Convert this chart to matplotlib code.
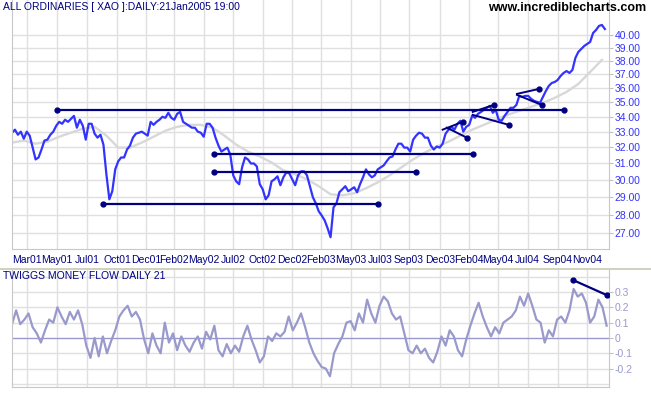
import numpy as np
import matplotlib.pyplot as plt
from matplotlib.ticker import FixedLocator, NullLocator

# All Ordinaries daily close, read every 5 trading days (Feb 2001 - Jan 2005)
price = [32.95, 33.15, 32.82, 33.02, 32.56, 33.02, 32.76, 31.99, 31.25, 31.37,
         31.87, 32.44, 32.50, 32.82, 33.02, 33.41, 33.67, 33.54, 33.81, 33.67,
         33.87, 34.07, 33.28, 33.81, 33.41, 32.50, 33.54, 33.54, 32.89, 32.63,
         32.82, 32.18, 30.34, 28.87, 29.34, 30.64, 31.13, 31.37, 31.37, 31.87,
         32.12, 32.63, 32.89, 32.95, 33.02, 32.89, 32.76, 33.67, 33.47, 33.67,
         33.81, 34.01, 33.94, 34.28, 33.94, 33.81, 34.21, 34.34, 33.67, 33.54,
         33.41, 33.28, 33.28, 33.02, 32.95, 32.69, 33.54, 33.54, 33.28, 32.63,
         32.12, 31.74, 31.87, 31.99, 31.56, 30.28, 29.92, 29.75, 30.76, 31.37,
         31.25, 31.00, 31.00, 30.82, 29.75, 29.45, 28.87, 29.10, 29.92, 30.04,
         30.22, 29.69, 30.16, 30.46, 30.40, 30.04, 29.69, 30.28, 30.52, 30.52,
         30.28, 29.63, 28.99, 28.64, 28.19, 27.96, 27.69, 27.26, 26.78, 28.41,
         28.64, 29.28, 29.45, 29.63, 29.34, 29.45, 29.57, 29.28, 29.75, 30.16,
         30.64, 30.34, 30.16, 30.28, 30.64, 30.76, 30.88, 31.13, 31.37, 31.43,
         31.87, 32.24, 32.24, 31.99, 31.99, 31.74, 32.50, 32.76, 32.95, 32.89,
         32.63, 32.63, 32.12, 31.87, 32.06, 31.99, 32.24, 32.89, 33.15, 33.34,
         33.15, 33.54, 33.74, 33.02, 33.34, 33.47, 34.07, 33.94, 34.21, 34.34,
         34.48, 34.62, 34.76, 34.28, 34.48, 33.81, 33.74, 34.07, 34.34, 34.62,
         34.62, 34.82, 35.45, 35.38, 35.45, 35.45, 35.24, 35.10, 35.03, 34.96,
         35.38, 35.80, 36.16, 36.37, 36.44, 36.59, 36.88, 37.10, 37.24, 37.10,
         37.32, 38.22, 38.68, 38.91, 39.14, 39.30, 39.45, 40.16, 40.40, 40.73,
         40.81, 40.48]

# moving average, read every 20 trading days
ma = [32.31, 32.44, 32.24, 32.37, 32.69, 32.95, 33.21, 33.34, 32.76, 31.99,
      31.99, 32.31, 32.69, 33.08, 33.34, 33.47, 33.47, 33.28, 32.76, 32.18,
      31.74, 31.43, 31.06, 30.58, 30.34, 30.04, 29.63, 29.16, 29.10, 29.22,
      29.51, 29.86, 30.28, 30.76, 31.25, 31.68, 32.06, 32.37, 32.76, 33.15,
      33.47, 33.81, 34.14, 34.41, 34.69, 34.96, 35.31, 35.73, 36.30, 37.17,
      38.07]

# Twiggs money flow (21), read every 7 trading days
mf = [0.09, 0.18, 0.09, 0.12, 0.16, 0.07, 0.03, -0.03, 0.05, 0.12,
      0.10, 0.20, 0.14, 0.09, 0.17, 0.12, 0.18, 0.09, -0.05, -0.13,
      0.00, -0.12, 0.01, -0.10, -0.02, 0.05, 0.14, 0.18, 0.21, 0.14,
      0.17, 0.12, -0.01, -0.10, 0.03, -0.05, -0.10, 0.10, -0.03, 0.03,
      -0.08, 0.01, -0.05, -0.09, -0.03, 0.01, -0.07, 0.04, -0.01, 0.08,
      -0.08, -0.12, -0.04, -0.10, -0.05, -0.09, 0.01, 0.08, -0.01, -0.08,
      -0.16, -0.12, 0.01, -0.02, 0.03, 0.01, 0.04, 0.14, 0.05, 0.10,
      0.16, 0.07, -0.03, -0.10, -0.15, -0.19, -0.20, -0.25, -0.10, -0.04,
      0.01, 0.10, 0.11, 0.05, 0.16, 0.10, 0.25, 0.16, 0.10, 0.21,
      0.27, 0.24, 0.16, 0.12, 0.14, 0.03, -0.08, -0.10, -0.05, -0.10,
      -0.07, -0.13, -0.16, -0.09, 0.01, -0.05, 0.05, 0.01, -0.08, -0.12,
      -0.01, 0.08, 0.16, 0.23, 0.14, 0.07, 0.01, 0.07, 0.03, 0.10,
      0.12, 0.14, 0.18, 0.27, 0.21, 0.29, 0.21, 0.12, 0.10, -0.03,
      0.05, 0.01, 0.12, 0.14, 0.10, 0.18, 0.32, 0.27, 0.29, 0.23,
      0.10, 0.14, 0.25, 0.20, 0.08]

tick_days = [25, 76, 127, 178, 227, 275, 325, 375, 425, 475,
             524, 575, 624, 673, 725, 774, 823, 874, 925, 975]
tick_labels = ['Mar01', 'May01', 'Jul01', 'Oct01', 'Dec01', 'Feb02', 'May02',
               'Jul02', 'Oct02', 'Dec02', 'Feb03', 'May03', 'Jul03', 'Sep03',
               'Dec03', 'Feb04', 'May04', 'Jul04', 'Sep04', 'Nov04']
price_ticks = [27, 28, 29, 30, 31, 32, 33, 34, 35, 36, 37, 38, 39, 40]
mf_ticks = [-0.2, -0.1, 0, 0.1, 0.2, 0.3]
mf_tick_labels = ['-0.2', '-0.1', '0', '0.1', '0.2', '0.3']

# horizontal support / resistance lines: start day, end day, level
hline_start = [76, 342, 342, 154]
hline_end = [936, 781, 685, 620]
hline_level = [34.45, 31.56, 30.50, 28.60]

# flag / wedge lines
wedge_x0 = [730, 737, 781, 781, 856, 856]
wedge_x1 = [764, 771, 817, 842, 893, 898]
wedge_y0 = [33.15, 33.28, 34.34, 34.14, 35.59, 35.52]
wedge_y1 = [33.67, 32.63, 34.82, 33.47, 35.94, 34.82]

# money flow divergence line
mf_line_x = [951, 1008]
mf_line_y = [0.378, 0.28]

navy = '#000080'
blue = '#3333ff'
lav = '#9999cc'
grid_c = '#e0e0e0'

plt.rcParams['font.family'] = ['Liberation Sans', 'DejaVu Sans']

price_days = np.arange(len(price)) * 5
ma_days = np.arange(len(ma)) * 20
mf_days = np.arange(len(mf)) * 7

W, H = 651, 395
fig = plt.figure(figsize=(W / 100, H / 100), dpi=100)
ax = fig.add_axes([12 / W, 1 - 249 / H, 597 / W, 249 / H])
ax2 = fig.add_axes([12 / W, 1 - 387 / H, 597 / W, 117 / H])

# ---- price panel ----
ax.set_yscale('log')
ax.set_xlim(0, 1012)
ax.set_ylim(26.16, 42.88)
for d in tick_days:
    ax.axvline(d, color=grid_c, lw=1, zorder=0)
for p in price_ticks:
    ax.axhline(p, color=grid_c, lw=1, zorder=0)

ax.plot(ma_days, ma, color='#d8d8d8', lw=1.7, zorder=1)
ax.plot(price_days, price, color=blue, lw=1.6, zorder=2)

for x0, x1, lv in zip(hline_start, hline_end, hline_level):
    ax.plot([x0, x1], [lv, lv], color=navy, lw=1.6, zorder=3,
            marker='o', ms=3.5)
for x0, x1, y0, y1 in zip(wedge_x0, wedge_x1, wedge_y0, wedge_y1):
    ax.plot([x0, x1], [y0, y1], color=navy, lw=1.4, zorder=3,
            marker='o', ms=3.5, markevery=[1])

ax.yaxis.tick_right()
ax.yaxis.set_major_locator(FixedLocator(price_ticks))
ax.yaxis.set_minor_locator(NullLocator())
ax.set_yticklabels(['%.2f' % p for p in price_ticks])
ax.tick_params(axis='y', length=3, color='#c0c0c0', pad=1,
               labelsize=7.5, labelcolor=blue)
ax.set_xticks(tick_days)
ax.set_xticklabels(tick_labels)
ax.tick_params(axis='x', length=0, pad=4, labelsize=7.5, labelcolor=navy)
for s in ['left', 'bottom', 'right']:
    ax.spines[s].set_color('#c8c8c8')
ax.spines['top'].set_visible(False)

fig.text(3 / W, 1 - 7 / H, 'ALL ORDINARIES [ XAO ]:DAILY:21Jan2005 19:00',
         color=navy, fontsize=7.5, va='center', ha='left')
fig.text(646 / W, 1 - 8 / H, 'www.incrediblecharts.com', color='black',
         fontsize=9, fontweight='bold', va='center', ha='right')

# separator between panels
fig.add_artist(plt.Line2D([0, 1], [1 - 269 / H, 1 - 269 / H],
                          transform=fig.transFigure, color='#c8c8b4', lw=1.2))

# ---- money flow panel ----
ax2.set_xlim(0, 1012)
ax2.set_ylim(-0.32, 0.4435)
for d in tick_days:
    ax2.axvline(d, color=grid_c, lw=1, zorder=0)
for v in [-0.3, -0.2, -0.1, 0.1, 0.2, 0.3, 0.4]:
    ax2.axhline(v, color=grid_c, lw=1, zorder=0)
ax2.axhline(0, color=lav, lw=1, zorder=1)
ax2.plot(mf_days, mf, color=lav, lw=1.6, zorder=2)
ax2.plot(mf_line_x, mf_line_y, color=navy, lw=1.6, marker='o', ms=3.5,
         zorder=3)

ax2.yaxis.tick_right()
ax2.set_yticks(mf_ticks)
ax2.set_yticklabels(mf_tick_labels)
ax2.tick_params(axis='y', length=3, color='#c0c0c0', pad=1,
                labelsize=7.5, labelcolor=lav)
ax2.set_xticks([])
for s in ['left', 'bottom', 'right']:
    ax2.spines[s].set_color('#c8c8c8')
ax2.spines['top'].set_visible(False)

fig.text(3 / W, 1 - 276 / H, 'TWIGGS MONEY FLOW DAILY 21', color=navy,
         fontsize=7.5, va='center', ha='left')

fig.savefig('out.png', dpi=100)
